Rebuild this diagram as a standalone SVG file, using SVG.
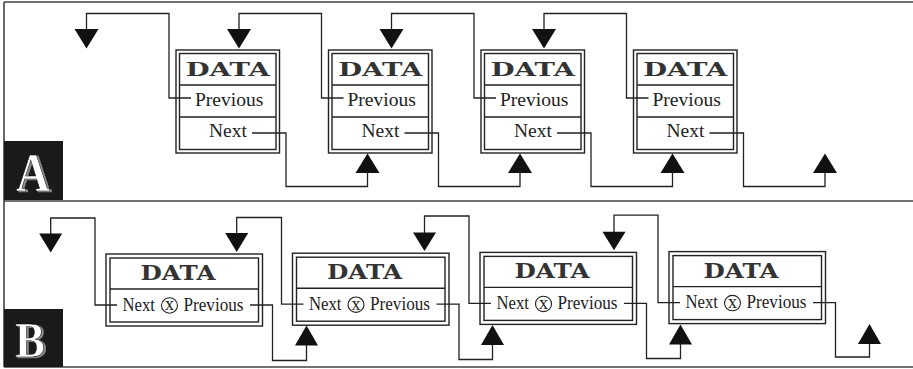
<svg xmlns="http://www.w3.org/2000/svg" width="913" height="369" viewBox="0 0 913 369">
  <style>
    .frame { fill: none; stroke: #444; stroke-width: 1.6; }
    .box { fill: #fff; stroke: #222; stroke-width: 1.4; }
    .inner { fill: none; stroke: #222; stroke-width: 1.4; }
    .div { stroke: #222; stroke-width: 1.4; }
    .wire { fill: none; stroke: #222; stroke-width: 1.3; }
    .head { fill: #111; }
    .data { font-family: "DejaVu Serif", "Liberation Serif", serif; font-weight: bold; fill: #333; text-anchor: middle; }
    .dataA { font-size: 19px; }
    .dataB { font-size: 20.5px; }
    .lbl { font-family: "Liberation Serif", "Times New Roman", serif; fill: #222; }
    .lblA { font-size: 19.5px; }
    .lblB { font-size: 18.5px; }
    .tag { font-family: "Liberation Serif", "Times New Roman", serif; font-weight: bold; fill: #fff; stroke: #000; stroke-width: 0.6; filter: url(#shade); }
    .xmark { font-family: "Liberation Serif", serif; font-size: 18px; fill: #222; text-anchor: middle; }
    .ring { fill: none; stroke: #222; stroke-width: 1.1; }
  </style>
  <defs>
    <!-- grey offset shadow behind the white panel letters -->
    <filter id="shade" x="-20%" y="-20%" width="140%" height="140%">
      <feFlood flood-color="#8a8a8a"/>
      <feComposite in2="SourceAlpha" operator="in"/>
      <feOffset dx="2" dy="1" result="sh"/>
      <feMerge>
        <feMergeNode in="sh"/>
        <feMergeNode in="SourceGraphic"/>
      </feMerge>
    </filter>
  </defs>

  <!-- outer frame and panel separator -->
  <g id="frame">
    <path class="frame" d="M4,2 H913 M4,2 V367 M4,201 H913 M4,367 H913"/>
  </g>

  <!-- panel tags -->
  <g id="tag-a">
    <rect x="4" y="141" width="59" height="59" fill="#1b1a1a"/>
    <text class="tag" x="16" y="191" font-size="54" textLength="34" lengthAdjust="spacingAndGlyphs">A</text>
  </g>
  <g id="tag-b">
    <rect x="4" y="309" width="59" height="58" fill="#1b1a1a"/>
    <text class="tag" x="15" y="357" font-size="50" textLength="30" lengthAdjust="spacingAndGlyphs">B</text>
  </g>

  <!-- panel A: doubly linked list nodes -->
  <g id="a-node-1">
    <rect class="box" x="176" y="50" width="103.5" height="103"/>
    <rect class="inner" x="179.5" y="53.5" width="96.5" height="96"/>
    <path class="div" d="M179.5,85 H276 M179.5,117 H276"/>
    <text class="data dataA" x="227.75" y="76" textLength="84" lengthAdjust="spacingAndGlyphs">DATA</text>
    <text class="lbl lblA" x="195" y="106">Previous</text>
    <text class="lbl lblA" x="209" y="137">Next</text>
  </g>
  <g id="a-node-2">
    <rect class="box" x="328.5" y="50" width="103.5" height="103"/>
    <rect class="inner" x="332" y="53.5" width="96.5" height="96"/>
    <path class="div" d="M332,85 H428.5 M332,117 H428.5"/>
    <text class="data dataA" x="380.25" y="76" textLength="84" lengthAdjust="spacingAndGlyphs">DATA</text>
    <text class="lbl lblA" x="347.5" y="106">Previous</text>
    <text class="lbl lblA" x="361.5" y="137">Next</text>
  </g>
  <g id="a-node-3">
    <rect class="box" x="481" y="50" width="103.5" height="103"/>
    <rect class="inner" x="484.5" y="53.5" width="96.5" height="96"/>
    <path class="div" d="M484.5,85 H581 M484.5,117 H581"/>
    <text class="data dataA" x="532.75" y="76" textLength="84" lengthAdjust="spacingAndGlyphs">DATA</text>
    <text class="lbl lblA" x="500" y="106">Previous</text>
    <text class="lbl lblA" x="514" y="137">Next</text>
  </g>
  <g id="a-node-4">
    <rect class="box" x="633.5" y="50" width="103.5" height="103"/>
    <rect class="inner" x="637" y="53.5" width="96.5" height="96"/>
    <path class="div" d="M637,85 H733.5 M637,117 H733.5"/>
    <text class="data dataA" x="685.25" y="76" textLength="84" lengthAdjust="spacingAndGlyphs">DATA</text>
    <text class="lbl lblA" x="652.5" y="106">Previous</text>
    <text class="lbl lblA" x="666.5" y="137">Next</text>
  </g>

  <!-- panel A: links -->
  <g id="connectors-a">
    <path class="wire" d="M191,98 H169 V13.5 H86.5 V30"/>
    <path class="wire" d="M343.5,98 H321.5 V13.5 H239 V30"/>
    <path class="wire" d="M496,98 H474 V13.5 H391.5 V30"/>
    <path class="wire" d="M648.5,98 H626.5 V13.5 H544 V30"/>
    <polygon class="head" points="74.5,29 98.5,29 86.5,48.5"/>
    <polygon class="head" points="227,29 251,29 239,48.5"/>
    <polygon class="head" points="379.5,29 403.5,29 391.5,48.5"/>
    <polygon class="head" points="532,29 556,29 544,48.5"/>

    <path class="wire" d="M252,133 H286 V186.5 H367.5 V172"/>
    <path class="wire" d="M404.5,133 H438.5 V186.5 H520 V172"/>
    <path class="wire" d="M557,133 H591 V186.5 H672.5 V172"/>
    <path class="wire" d="M709.5,133 H743.5 V186.5 H825 V172"/>
    <polygon class="head" points="355.5,173 379.5,173 367.5,153.5"/>
    <polygon class="head" points="508,173 532,173 520,153.5"/>
    <polygon class="head" points="660.5,173 684.5,173 672.5,153.5"/>
    <polygon class="head" points="813,173 837,173 825,153.5"/>
  </g>

  <!-- panel B: XOR linked list nodes -->
  <g id="b-node-1">
    <rect class="box" x="106" y="254" width="156.5" height="72"/>
    <rect class="inner" x="110" y="258" width="148.5" height="64"/>
    <path class="div" d="M110,289 H258.5"/>
    <text class="data dataB" x="178" y="280" textLength="75" lengthAdjust="spacingAndGlyphs">DATA</text>
    <text class="lbl lblB" x="122.5" y="310.5" textLength="32.5" lengthAdjust="spacingAndGlyphs">Next</text>
    <ellipse class="ring" cx="169.5" cy="305.5" rx="8" ry="7.7"/>
    <text class="xmark" x="169.5" y="310.3">x</text>
    <text class="lbl lblB" x="183.5" y="310.5" textLength="60" lengthAdjust="spacingAndGlyphs">Previous</text>
  </g>
  <g id="b-node-2">
    <rect class="box" x="292.5" y="253.2" width="156.5" height="72"/>
    <rect class="inner" x="296.5" y="257.2" width="148.5" height="64"/>
    <path class="div" d="M296.5,288.2 H445"/>
    <text class="data dataB" x="364.5" y="279.2" textLength="75" lengthAdjust="spacingAndGlyphs">DATA</text>
    <text class="lbl lblB" x="309" y="309.7" textLength="32.5" lengthAdjust="spacingAndGlyphs">Next</text>
    <ellipse class="ring" cx="356" cy="304.7" rx="8" ry="7.7"/>
    <text class="xmark" x="356" y="309.5">x</text>
    <text class="lbl lblB" x="370" y="309.7" textLength="60" lengthAdjust="spacingAndGlyphs">Previous</text>
  </g>
  <g id="b-node-3">
    <rect class="box" x="480" y="252.4" width="156.5" height="72"/>
    <rect class="inner" x="484" y="256.4" width="148.5" height="64"/>
    <path class="div" d="M484,287.4 H632.5"/>
    <text class="data dataB" x="552" y="278.4" textLength="75" lengthAdjust="spacingAndGlyphs">DATA</text>
    <text class="lbl lblB" x="496.5" y="308.9" textLength="32.5" lengthAdjust="spacingAndGlyphs">Next</text>
    <ellipse class="ring" cx="543.5" cy="303.9" rx="8" ry="7.7"/>
    <text class="xmark" x="543.5" y="308.7">x</text>
    <text class="lbl lblB" x="557.5" y="308.9" textLength="60" lengthAdjust="spacingAndGlyphs">Previous</text>
  </g>
  <g id="b-node-4">
    <rect class="box" x="669" y="251.6" width="156.5" height="72"/>
    <rect class="inner" x="673" y="255.6" width="148.5" height="64"/>
    <path class="div" d="M673,286.6 H821.5"/>
    <text class="data dataB" x="741" y="277.6" textLength="75" lengthAdjust="spacingAndGlyphs">DATA</text>
    <text class="lbl lblB" x="685.5" y="308.1" textLength="32.5" lengthAdjust="spacingAndGlyphs">Next</text>
    <ellipse class="ring" cx="732.5" cy="303.1" rx="8" ry="7.7"/>
    <text class="xmark" x="732.5" y="307.9">x</text>
    <text class="lbl lblB" x="746.5" y="308.1" textLength="60" lengthAdjust="spacingAndGlyphs">Previous</text>
  </g>

  <!-- panel B: links -->
  <g id="connectors-b">
    <path class="wire" d="M117,305 H95 V218 H50.7 V234"/>
    <path class="wire" d="M303.5,304.2 H281.5 V217.5 H236.7 V233.5"/>
    <path class="wire" d="M491,303.4 H469 V216 H424.5 V233"/>
    <path class="wire" d="M680,302.6 H658 V215.2 H614 V232.3"/>
    <polygon class="head" points="39.2,233.5 62.2,233.5 50.7,252.5"/>
    <polygon class="head" points="225.2,233 248.2,233 236.7,252"/>
    <polygon class="head" points="413,232.5 436,232.5 424.5,251"/>
    <polygon class="head" points="602.5,231.8 625.5,231.8 614,250.3"/>

    <path class="wire" d="M250,305 H272.5 V360.5 H306.5 V344.5"/>
    <path class="wire" d="M436.5,304.2 H459 V359.5 H492.5 V344"/>
    <path class="wire" d="M624,303.4 H646.5 V358.5 H680.5 V343.5"/>
    <path class="wire" d="M813,302.6 H835.5 V357 H869.5 V343"/>
    <polygon class="head" points="295,345.5 318,345.5 306.5,325.5"/>
    <polygon class="head" points="481,345 504,345 492.5,325"/>
    <polygon class="head" points="669,344.5 692,344.5 680.5,324.5"/>
    <polygon class="head" points="858,344 881,344 869.5,324"/>
  </g>
</svg>
